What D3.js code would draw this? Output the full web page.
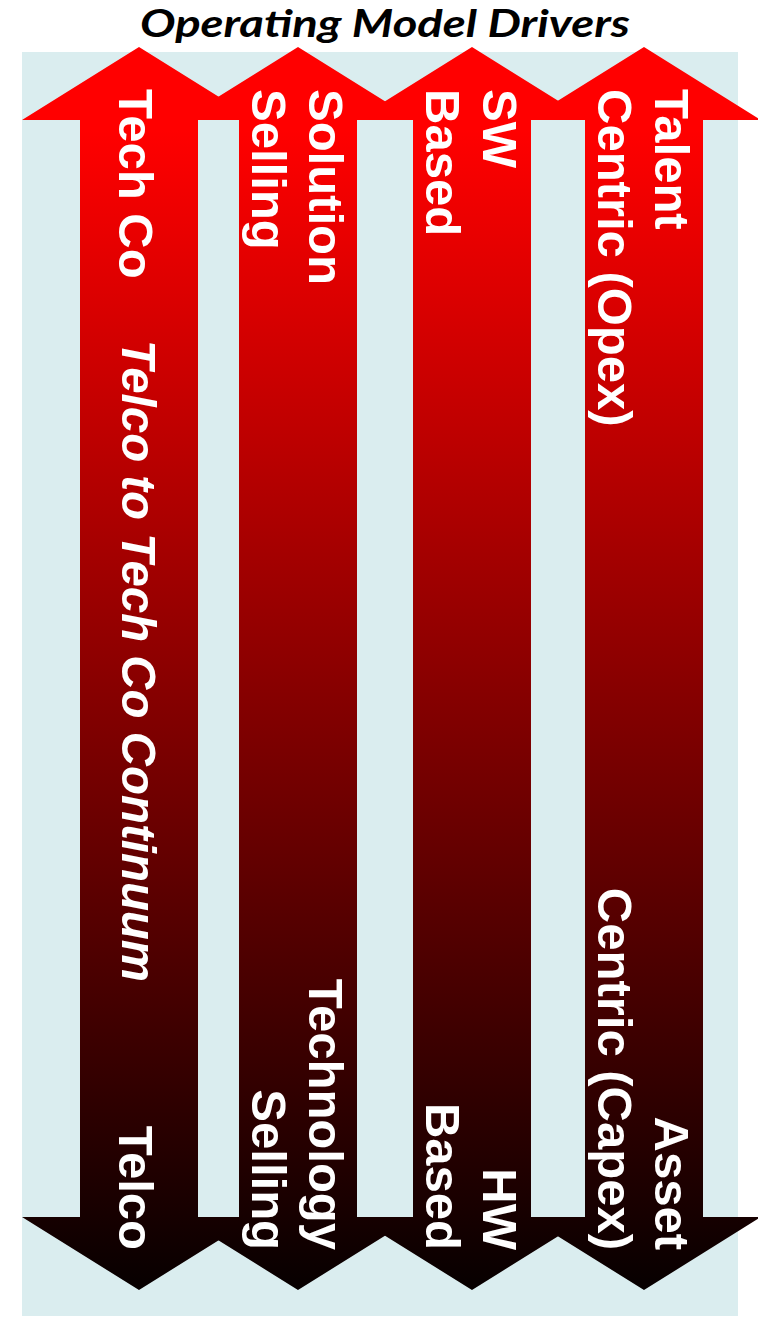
<!DOCTYPE html>
<html>
<head>
<meta charset="utf-8">
<script src="https://cdn.jsdelivr.net/npm/d3@7"></script>
<style>
    html, body { margin: 0; padding: 0; background: #fff; }
    svg { display: block; }
</style>
</head>
<body>
<div class="chart"></div>
<script>
// chart content
const title = 'Operating Model Drivers';
const drivers = ['continuum', 'selling', 'basis', 'cost'];
const topLabels = [['Tech Co'], ['Solution', 'Selling'], ['SW', 'Based'], ['Talent', 'Centric (Opex)']];
const bottomLabels = [['Telco'], ['Technology', 'Selling'], ['HW', 'Based'], ['Asset', 'Centric (Capex)']];
const continuumLabel = 'Telco to Tech Co Continuum';

// layout
const _width = 758, _height = 1318;
const arrowCenters = [139, 298, 472, 644];
const shaftHalf = 59, headHalf = 117;
const arrowY = {peak: 47, topBase: 120, bottomBase: 1217, tip: 1290};
const fontSize = 49, lineH = 56.5, baseShift = 17.5;

function draw_drivers() {
    let svg = d3.select('.chart')
        .append('svg')
        .attr('width', _width)
        .attr('height', _height);

    let x = d3.scaleOrdinal().domain(drivers).range(arrowCenters);

    let grad = svg.append('defs').append('linearGradient')
        .attr('id', 'redToBlack')
        .attr('gradientUnits', 'userSpaceOnUse')
        .attr('x1', 0).attr('x2', 0)
        .attr('y1', 130).attr('y2', 1320);
    grad.append('stop').attr('offset', 0).attr('stop-color', '#ff0000');
    grad.append('stop').attr('offset', 1).attr('stop-color', '#000000');

    // light blue panel
    svg.append('rect')
        .attr('x', 22).attr('y', 52)
        .attr('width', 716).attr('height', 1264)
        .attr('fill', '#daedef');

    let line = d3.line();
    let arrowPoints = cx => [
        [cx - shaftHalf, arrowY.topBase], [cx - headHalf, arrowY.topBase], [cx, arrowY.peak],
        [cx + headHalf, arrowY.topBase], [cx + shaftHalf, arrowY.topBase],
        [cx + shaftHalf, arrowY.bottomBase], [cx + headHalf, arrowY.bottomBase], [cx, arrowY.tip],
        [cx - headHalf, arrowY.bottomBase], [cx - shaftHalf, arrowY.bottomBase]
    ];

    svg.append('g')
        .selectAll('path')
        .data(drivers)
        .enter().append('path')
        .attr('d', d => line(arrowPoints(x(d))) + 'Z')
        .attr('fill', 'url(#redToBlack)');

    // rotated labels: local x runs down the arrow, local y runs leftwards
    let labelGroup = (labels, anchor, pos) => {
        let g = svg.append('g')
            .selectAll('g')
            .data(drivers)
            .enter().append('g')
            .attr('transform', d => `translate(${x(d)},0) rotate(90)`);
        g.each(function (d, i) {
            let lines = labels[i];
            let n = lines.length;
            d3.select(this).selectAll('text')
                .data(lines)
                .enter().append('text')
                .attr('x', pos)
                .attr('y', (t, j) => n === 1 ? baseShift + 3 : baseShift - ((n - 1) / 2 - j) * lineH)
                .attr('text-anchor', anchor)
                .attr('fill', '#fff')
                .style('font-family', '"Liberation Sans", Arial, sans-serif')
                .style('font-weight', 'bold')
                .style('font-size', fontSize + 'px')
                .text(t => t);
        });
    };
    labelGroup(topLabels, 'start', 89);
    labelGroup(bottomLabels, 'end', 1250);

    // continuum label along the first arrow
    svg.append('g')
        .attr('transform', `translate(${x(drivers[0])},0) rotate(90)`)
        .append('text')
        .attr('x', 340)
        .attr('y', baseShift)
        .attr('textLength', 642)
        .attr('lengthAdjust', 'spacingAndGlyphs')
        .attr('fill', '#fff')
        .style('font-family', '"Liberation Sans", Arial, sans-serif')
        .style('font-weight', 'bold')
        .style('font-style', 'italic')
        .style('font-size', fontSize + 'px')
        .text(continuumLabel);

    svg.append('text')
        .attr('x', 385)
        .attr('y', 37)
        .attr('text-anchor', 'middle')
        .attr('textLength', 490)
        .attr('lengthAdjust', 'spacingAndGlyphs')
        .style('font-family', 'Lato, "Open Sans", sans-serif')
        .style('font-weight', 'bold')
        .style('font-style', 'italic')
        .style('font-size', '38px')
        .attr('fill', '#000')
        .text(title);
}

draw_drivers();
</script>
</body>
</html>
